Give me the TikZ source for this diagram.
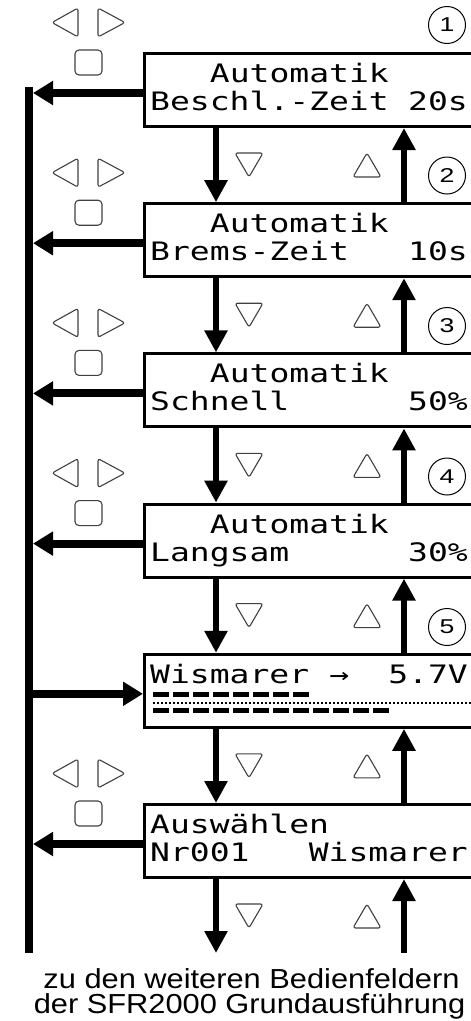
\documentclass[tikz,border=0pt]{standalone}
\usepackage{fontspec}
\newfontfamily\lcdfont[FakeStretch=1.30]{DejaVu Sans Mono}
\newfontfamily\helvw[FakeStretch=1.33]{Liberation Sans}
\newfontfamily\helvb[FakeStretch=1.12]{Liberation Sans}
\usetikzlibrary{arrows.meta}
\begin{document}
\begin{tikzpicture}[x=1pt,y=-1pt,
  lcdbox/.style={draw,line width=3pt,anchor=north west,minimum width=335pt,minimum height=73pt,inner sep=0pt},
  lcd/.style={inner sep=0pt,font=\lcdfont\fontsize{25.4}{30}\selectfont},
  varrow/.style={line width=6.5pt,-{Triangle[length=22pt,width=22pt]}},
  harrow/.style={line width=8pt,-{Triangle[length=20pt,width=23pt]}},
  mainline/.style={line width=8pt},
  keyicon/.style={draw=black!75,line width=1.1pt,rounded corners=2.5pt,line join=round},
  numc/.style={draw,circle,line width=1pt,minimum size=37pt,inner sep=0pt,font=\helvw\fontsize{20}{20}\selectfont},
  bottomtxt/.style={inner sep=0pt,font=\helvb\fontsize{27.5}{28}\selectfont}
]
\useasboundingbox (0,0) rectangle (471,1021);
\coordinate (dx) at (216,0);
\coordinate (ux) at (404,0);
\coordinate (ltop) at (29,87);
\coordinate (lbot) at (29,953);

% boxes
\foreach \k in {0,...,5}{
  \node[lcdbox] (box\k) at (143,{52+150.2*\k}) {};
}
% texts
\node[lcd,anchor=base west] (t0a) at (209.7,82.5) {Automatik};
\node[lcd,anchor=base west] (t0b) at (150,110.5) {Beschl.-Zeit};
\node[lcd,anchor=base east] (t0c) at (468,110.5) {20s};
\node[lcd,anchor=base west] (t1a) at (209.7,232.7) {Automatik};
\node[lcd,anchor=base west] (t1b) at (150,260.7) {Brems-Zeit};
\node[lcd,anchor=base east] (t1c) at (468,260.7) {10s};
\node[lcd,anchor=base west] (t2a) at (209.7,382.9) {Automatik};
\node[lcd,anchor=base west] (t2b) at (150,410.9) {Schnell};
\node[lcd,anchor=base east] (t2c) at (468,410.9) {50\%};
\node[lcd,anchor=base west] (t3a) at (209.7,533.1) {Automatik};
\node[lcd,anchor=base west] (t3b) at (150,561.1) {Langsam};
\node[lcd,anchor=base east] (t3c) at (468,561.1) {30\%};
\node[lcd,anchor=base west] (t4a) at (150,683.3) {Wismarer};
\node[lcd,anchor=base west] (t4b) at (329.1,683.3) {→};
\node[lcd,anchor=base east] (t4c) at (468,683.3) {5.7V};
\node[lcd,anchor=base west] (t5a) at (150,833.5) {Auswählen};
\node[lcd,anchor=base west] (t5b) at (150,861.5) {Nr001};
\node[lcd,anchor=base east] (t5c) at (468,861.5) {Wismarer};
% bar graph in box 5
\draw[line width=5pt,dash pattern=on 16pt off 4pt] (153,694.5) -- ++(156,0);
\draw[line width=2pt,dash pattern=on 1.6pt off 2.4pt] (153,702.5) -- (471,702.5);
\draw[line width=5pt,dash pattern=on 16pt off 4pt] (153,710) -- ++(236,0);

% main line
\draw[mainline] (ltop) -- (lbot);

% vertical arrows between boxes
\foreach \k [evaluate=\k as \n using int(\k+1)] in {0,...,4}{
  \draw[varrow] (dx |- box\k.south) -- (dx |- box\n.north);
  \draw[varrow] (ux |- box\n.north) -- (ux |- box\k.south);
}
\coordinate (dend) at (216,953);
\coordinate (ustart) at (404,953);
\draw[varrow] (dx |- box5.south) -- (dend);
\draw[varrow] (ustart) -- (ux |- box5.south);

% horizontal arrows
\foreach \k in {0,1,2,3,5}{
  \coordinate (h\k) at ([yshift=-3pt]box\k.west);
  \draw[harrow,shorten >=4pt] (h\k) -- (h\k -| ltop);
}
\coordinate (h4) at ([yshift=-3pt]box4.west);
\draw[harrow,shorten <=4pt] (h4 -| ltop) -- (h4);

% key icons
\foreach \k in {0,1,2,3,5}{
  \begin{scope}[yshift={-150.2pt*\k}]
    \draw[keyicon] (78,8) -- (78,37) -- (52,22.5) -- cycle;
    \draw[keyicon] (98,8) -- (98,37) -- (125,22.5) -- cycle;
    \draw[keyicon,rounded corners=4pt] (75,50) rectangle (102,75);
  \end{scope}
}
% down/up triangles
\foreach \k in {0,...,5}{
  \begin{scope}[yshift={-150.2pt*\k}]
    \draw[keyicon] (235,153) -- (263,153) -- (249,177) -- cycle;
    \draw[keyicon] (353,177) -- (381,177) -- (367,153) -- cycle;
  \end{scope}
}
% numbers
\foreach \k in {1,...,5}{
  \node[numc] (c\k) at (447,{25+150.5*(\k-1)}) {\k};
}
% bottom text
\node[bottomtxt,anchor=base] (n1) at (251.5,988) {zu den weiteren Bedienfeldern};
\node[bottomtxt,anchor=base] (n2) at (249.5,1013) {der SFR2000 Grundausführung};
\end{tikzpicture}
\end{document}
